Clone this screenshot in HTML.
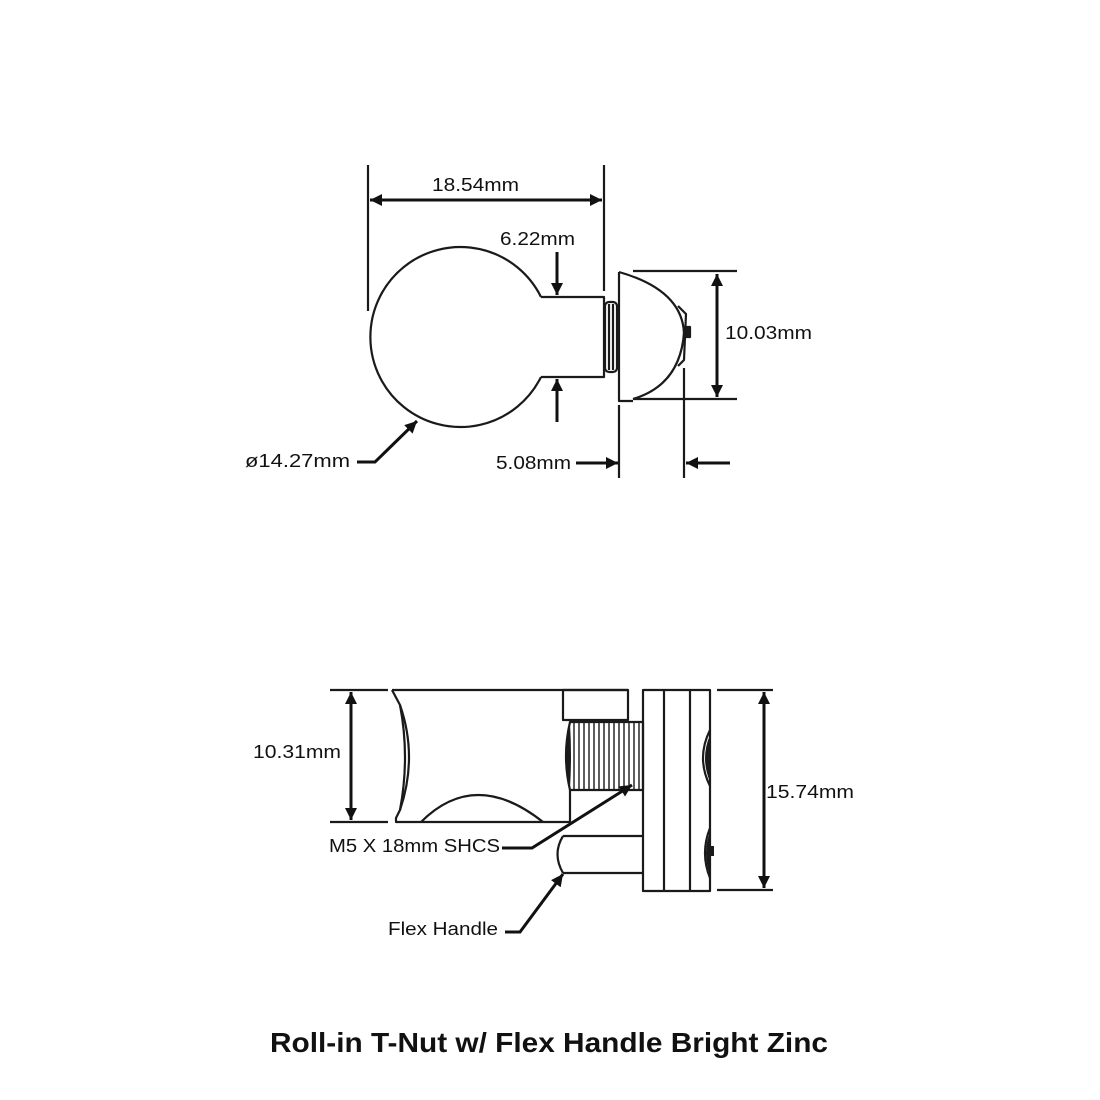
<!DOCTYPE html>
<html><head><meta charset="utf-8"><style>
html,body{margin:0;padding:0;background:#fff;}
svg{display:block;}
text{font-family:"Liberation Sans",sans-serif;fill:#111;}
</style></head><body>
<svg width="1100" height="1100" viewBox="0 0 1100 1100" xmlns="http://www.w3.org/2000/svg">
<defs>
<marker id="a" viewBox="0 0 10 10" refX="10" refY="5" markerWidth="20" markerHeight="12" markerUnits="userSpaceOnUse" orient="auto-start-reverse">
<path d="M0,0 L10,5 L0,10 z" fill="#111"/></marker>
</defs>
<g stroke="#1a1a1a" stroke-width="2.2" fill="none" stroke-linejoin="round">
<path d="M541,297 A90,90 0 1 0 541,377"/>
<path d="M541,297 H604 V377 H541"/>
<rect x="605" y="302" width="12" height="70" rx="4"/>
<line x1="609" y1="304" x2="609" y2="370"/><line x1="613" y1="304" x2="613" y2="370"/>
<path d="M619,272 V401 H633"/>
<path d="M619,272 Q682,290 684,333 Q680,385 633,399"/>
<path d="M678,306 L686,314 L684,360 L678,366"/>
<rect x="684" y="327" width="6" height="10" fill="#1a1a1a"/>
<line x1="368" y1="165" x2="368" y2="311"/>
<line x1="604" y1="165" x2="604" y2="291"/>
<line x1="633" y1="271" x2="737" y2="271"/>
<line x1="633" y1="399" x2="737" y2="399"/>
<line x1="619" y1="405" x2="619" y2="478"/>
<line x1="684" y1="368" x2="684" y2="478"/>
</g>
<g stroke="#111" stroke-width="3" fill="none">
<line x1="370" y1="200" x2="602" y2="200" marker-start="url(#a)" marker-end="url(#a)"/>
<line x1="717" y1="274" x2="717" y2="397" marker-start="url(#a)" marker-end="url(#a)"/>
<line x1="557" y1="252" x2="557" y2="295" marker-end="url(#a)"/>
<line x1="557" y1="422" x2="557" y2="379" marker-end="url(#a)"/>
<line x1="576" y1="463" x2="618" y2="463" marker-end="url(#a)"/>
<line x1="730" y1="463" x2="686" y2="463" marker-end="url(#a)"/>
<polyline points="357,462 375,462 417,421" marker-end="url(#a)"/>
</g>
<g font-size="18" lengthAdjust="spacingAndGlyphs">
<text x="432" y="191" textLength="87" lengthAdjust="spacingAndGlyphs">18.54mm</text>
<text x="500" y="245" textLength="75" lengthAdjust="spacingAndGlyphs">6.22mm</text>
<text x="725" y="339" textLength="87" lengthAdjust="spacingAndGlyphs">10.03mm</text>
<text x="496" y="469" textLength="75" lengthAdjust="spacingAndGlyphs">5.08mm</text>
<text x="245" y="467" textLength="105" lengthAdjust="spacingAndGlyphs">ø14.27mm</text>
<text x="253" y="758" textLength="88" lengthAdjust="spacingAndGlyphs">10.31mm</text>
<text x="766" y="798" textLength="88" lengthAdjust="spacingAndGlyphs">15.74mm</text>
<text x="329" y="852" textLength="171" lengthAdjust="spacingAndGlyphs">M5 X 18mm SHCS</text>
<text x="388" y="935" textLength="110" lengthAdjust="spacingAndGlyphs">Flex Handle</text>
</g>

<g stroke="#1a1a1a" stroke-width="2.2" fill="none" stroke-linejoin="round">
<path d="M392,690 H628"/>
<path d="M392,690 L400,705 Q418,757 400,810 L396,818 L396,822 H570"/>
<path d="M400,705 Q410,757 400,810"/>
<path d="M421,822 Q475,768 543,822"/>
<rect x="563" y="690" width="65" height="30"/>
<path d="M570,722 H643 V790 H570 Q562,756 570,722 Z"/>
<line x1="570" y1="790" x2="570" y2="822"/>
<rect x="643" y="690" width="67" height="201"/>
<line x1="664" y1="690" x2="664" y2="891"/>
<line x1="690" y1="690" x2="690" y2="891"/>
<path d="M710,730 Q696,758 710,786"/>
<path d="M710,828 Q700,853 710,878"/>
<path d="M563,836 H643 M563,873 H643 M563,836 Q552,854 563,873"/>
<line x1="330" y1="690" x2="388" y2="690"/>
<line x1="330" y1="822" x2="388" y2="822"/>
<line x1="717" y1="690" x2="773" y2="690"/>
<line x1="717" y1="890" x2="773" y2="890"/>
</g>
<g stroke="#1a1a1a" stroke-width="1.4">
<line x1="574" y1="723" x2="574" y2="789"/><line x1="579" y1="723" x2="579" y2="789"/>
<line x1="584" y1="723" x2="584" y2="789"/><line x1="589" y1="723" x2="589" y2="789"/>
<line x1="594" y1="723" x2="594" y2="789"/><line x1="599" y1="723" x2="599" y2="789"/>
<line x1="604" y1="723" x2="604" y2="789"/><line x1="609" y1="723" x2="609" y2="789"/>
<line x1="614" y1="723" x2="614" y2="789"/><line x1="619" y1="723" x2="619" y2="789"/>
<line x1="624" y1="723" x2="624" y2="789"/><line x1="629" y1="723" x2="629" y2="789"/>
<line x1="634" y1="723" x2="634" y2="789"/><line x1="639" y1="723" x2="639" y2="789"/>
</g>
<path d="M570,724 Q563,756 570,788 Q572,756 570,724Z" fill="#1a1a1a"/>
<path d="M710,735 Q700,758 710,782Z" fill="#1a1a1a"/>
<path d="M710,832 Q702,853 710,875Z" fill="#1a1a1a"/>
<rect x="709" y="846" width="5" height="10" fill="#1a1a1a"/>
<g stroke="#111" stroke-width="3" fill="none">
<line x1="351" y1="692" x2="351" y2="820" marker-start="url(#a)" marker-end="url(#a)"/>
<line x1="764" y1="692" x2="764" y2="888" marker-start="url(#a)" marker-end="url(#a)"/>
<polyline points="502,848 532,848 632,785" marker-end="url(#a)"/>
<polyline points="505,932 520,932 563,874" marker-end="url(#a)"/>
</g>
<text x="549" y="1052" font-size="28" font-weight="bold" text-anchor="middle" textLength="558" lengthAdjust="spacingAndGlyphs">Roll-in T-Nut w/ Flex Handle Bright Zinc</text>
</svg>
</body></html>
